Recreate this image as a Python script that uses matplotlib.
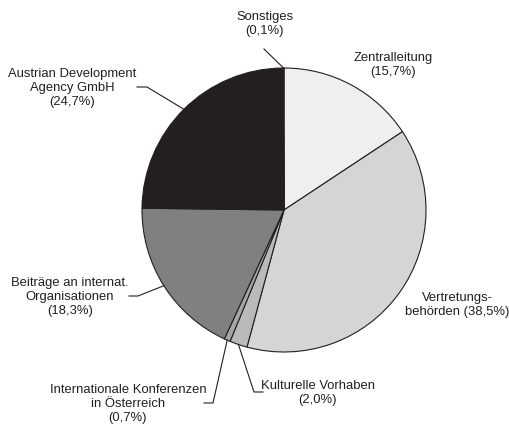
import numpy as np
import matplotlib
matplotlib.use("Agg")
import matplotlib.pyplot as plt

#%% --- Data ---

categories = ["Zentralleitung", "Vertretungs-\nbehörden", "Kulturelle Vorhaben",
              "Internationale Konferenzen\nin Österreich",
              "Beiträge an internat.\nOrganisationen",
              "Austrian Development\nAgency GmbH", "Sonstiges"]
shares = [15.7, 38.5, 2.0, 0.7, 18.3, 24.7, 0.1]
colors = ["#efefef", "#d5d5d5", "#bababa", "#a6a6a6", "#808083", "#231f20", "#ffffff"]

#%% --- Layout (pixel coordinates, y measured from top) ---

W, H = 509, 426
cx, cy, r = 284, 210, 142

# label centre, and leader line points (elbow, end) or None
label_pos = [(393, 65), (457, 305), (318, 393), (128, 404), (70, 297), (72, 88), (265, 24)]
leaders = [None, None,
           [(254, 392), (263, 392)],
           [(213, 403), (204, 403)],
           [(138, 296), (129, 296)],
           [(147, 87), (137, 87)],
           [(264, 49)]]

def fy(y):
    return H - y

plt.rcParams["font.family"] = ["Liberation Sans", "DejaVu Sans"]

fig = plt.figure(figsize=(W / 100, H / 100), dpi=100)
ax = fig.add_axes([0, 0, 1, 1])

wedges, _ = ax.pie(shares, colors=colors, startangle=90, counterclock=False,
                   center=(cx, fy(cy)), radius=r,
                   wedgeprops=dict(edgecolor="#231f20", linewidth=0.8))

for w, name, pct, pos, lead in zip(wedges, categories, shares, label_pos, leaders):
    if name.startswith("Vertretungs"):
        txt = "Vertretungs-\nbehörden ({:.1f}%)".format(pct).replace(".", ",")
    else:
        txt = name + "\n(" + "{:.1f}".format(pct).replace(".", ",") + "%)"
    ax.text(pos[0], fy(pos[1]), txt, ha="center", va="center",
            fontsize=9.4, color="#231f20", linespacing=1.2)
    if lead is not None:
        mid = np.deg2rad((w.theta1 + w.theta2) / 2)
        pts = [(cx + r * np.cos(mid), fy(cy) + r * np.sin(mid))]
        pts += [(x, fy(y)) for x, y in lead]
        xs, ys = zip(*pts)
        ax.plot(xs, ys, color="#231f20", linewidth=0.8)

ax.set_xlim(0, W)
ax.set_ylim(0, H)
ax.set_aspect("equal")
ax.axis("off")

fig.savefig("out.png", dpi=100)
